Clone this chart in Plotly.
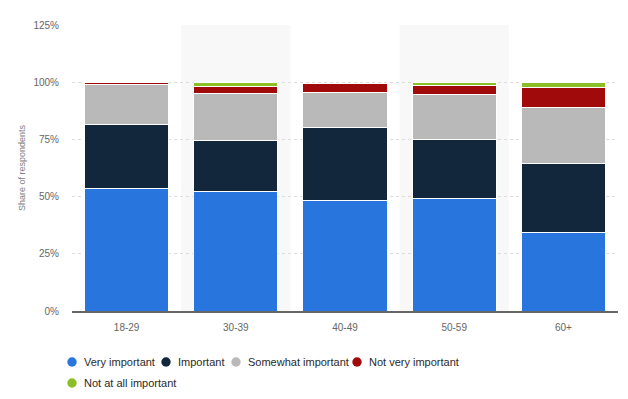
import plotly.graph_objects as go

categories = ["18-29", "30-39", "40-49", "50-59", "60+"]
very_important = [53.6, 52.4, 48.5, 49.0, 34.2]
important = [28.1, 22.0, 31.9, 25.9, 30.3]
somewhat_important = [17.4, 20.7, 15.2, 19.8, 24.5]
not_very_important = [0.7, 3.1, 3.7, 3.9, 8.8]
not_at_all_important = [0.0, 1.6, 0.0, 1.2, 2.0]

series_names = ["Very important", "Important", "Somewhat important",
                "Not very important", "Not at all important"]
series_values = [very_important, important, somewhat_important,
                 not_very_important, not_at_all_important]
colors = ["#2876dd", "#12263c", "#b9b9b9", "#a10a0a", "#8cbf26"]

yticks = [0, 25, 50, 75, 100, 125]
ytick_labels = ["0%", "25%", "50%", "75%", "100%", "125%"]

FONT = "Liberation Sans"

# figure geometry (page has an 8px body margin)
W, H = 620, 391
ML, MR, MT, MB = 64, 10, 17, 88
PW = W - ML - MR
PH = H - MT - MB

# legend entry positions in figure pixels: (marker x, marker y)
legend_pos = [(64, 354), (158, 354), (228, 354), (349, 354), (64, 375)]

fig = go.Figure()
for name, vals, col in zip(series_names, series_values, colors):
    fig.add_trace(go.Bar(
        x=categories, y=vals, name=name, showlegend=False,
        marker=dict(color=col, line=dict(color="#ffffff", width=1)),
        hoverinfo="x+y+name",
    ))

# alternating background bands
shapes = []
for i in [1, 3]:
    shapes.append(dict(type="rect", xref="x", yref="paper",
                       x0=i - 0.5, x1=i + 0.5, y0=0, y1=1,
                       fillcolor="#f8f8f8", line=dict(width=0), layer="below"))

annotations = []
for name, col, (px, py) in zip(series_names, colors, legend_pos):
    xp = (px - ML) / PW
    yp = (H - MB - py) / PH
    shapes.append(dict(type="circle", xref="paper", yref="paper",
                       xsizemode="pixel", ysizemode="pixel",
                       xanchor=xp, yanchor=yp, x0=-4.7, x1=4.7, y0=-4.7, y1=4.7,
                       fillcolor=col, line=dict(width=0)))
    annotations.append(dict(text=name, xref="paper", yref="paper",
                            x=(px + 10 - ML) / PW, y=yp, xanchor="left",
                            yanchor="middle", showarrow=False,
                            font=dict(size=11, color="#2a2a2a", family=FONT)))

fig.update_layout(
    width=W, height=H,
    margin=dict(l=ML, r=MR, t=MT, b=MB, autoexpand=False),
    paper_bgcolor="#ffffff", plot_bgcolor="#ffffff",
    barmode="stack", bargap=0.23,
    shapes=shapes, annotations=annotations,
    showlegend=False,
    font=dict(family=FONT, color="#333333"),
    xaxis=dict(
        tickfont=dict(size=10, color="#666666", family=FONT),
        showgrid=False, showline=True, linecolor="#666666", linewidth=1.5,
        ticks="", ticklen=0, automargin=False, ticklabelstandoff=6,
    ),
    yaxis=dict(
        range=[0, 125], tickvals=yticks, ticktext=ytick_labels,
        tickfont=dict(size=10, color="#666666", family=FONT),
        showgrid=True, gridcolor="#dddddd", griddash="dot", gridwidth=1,
        zeroline=False, showline=False, ticks="", automargin=False,
        ticklabelstandoff=12,
        title=dict(text="Share of respondents",
                   font=dict(size=9, color="#808080", family=FONT), standoff=6),
    ),
)

fig.write_html("out.html")
